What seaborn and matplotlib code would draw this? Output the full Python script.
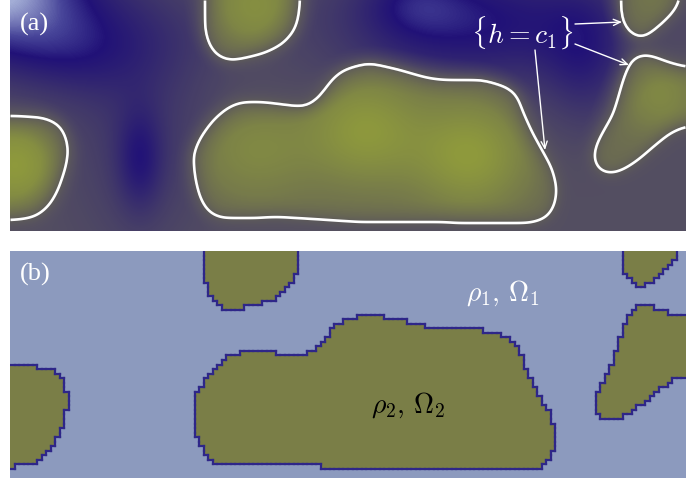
import numpy as np
import matplotlib
matplotlib.use("Agg")
import matplotlib.pyplot as plt
import seaborn as sns
from matplotlib.path import Path
from matplotlib.colors import LinearSegmentedColormap, ListedColormap
from matplotlib.collections import LineCollection

# ---------------------------------------------------------------
# Level-set outlines {h = c1} (x, y in panel pixels, y downward)
# ---------------------------------------------------------------
blob_left_x = [-20, 10, 40, 55, 63, 68, 68, 65, 58, 50, 37, 25, 10, -20]
blob_left_y = [116, 116, 117, 122, 130, 145, 155, 170, 190, 205, 216, 219, 220, 220]

blob_top_x = [205, 205, 205, 209, 217, 230, 245, 265, 283, 295, 299, 300, 300]
blob_top_y = [-20, 0, 30, 45, 56, 61, 58, 53, 44, 30, 15, 0, -20]

blob_main_x = [193, 200, 213, 227, 240, 263, 287, 303, 313, 323, 333, 343, 360, 370,
               400, 427, 443, 483, 507, 517, 523, 532, 543, 552, 557, 555, 547, 530,
               483, 417, 360, 313, 280, 247, 220, 208, 200, 195]
blob_main_y = [155, 138, 120, 108, 102, 102, 105, 107, 103, 92, 78, 70, 65, 63,
               70, 78, 80, 80, 87, 95, 112, 132, 152, 168, 188, 205, 218, 223,
               223, 222, 222, 219, 217, 218, 218, 212, 198, 178]

blob_corner_x = [621, 621, 623, 630, 640, 648, 660, 673, 679, 680, 680]
blob_corner_y = [-20, 10, 23, 33, 39, 35, 25, 13, 3, 0, -20]

blob_right_x = [633, 642, 653, 667, 686, 710, 710, 686, 670, 653, 638, 623, 610,
                598, 593, 597, 605, 613, 618, 623, 628]
blob_right_y = [58, 54, 56, 62, 67, 70, 124, 126, 133, 147, 160, 170, 174,
                170, 157, 143, 128, 115, 98, 80, 67]

# Interior maxima of h (x, y, sigma_x, sigma_y, amplitude)
peak_x = [15, 255, 255, 365, 470, 655, 660]
peak_y = [165, 5, 150, 130, 155, 5, 95]
peak_sx = [35, 35, 45, 40, 42, 25, 30]
peak_sy = [35, 35, 40, 40, 40, 25, 30]
peak_amp = [0.60, 0.45, 0.35, 0.55, 0.60, 0.15, 0.35]

# Exterior minima of h (x, y, sigma_x, sigma_y, amplitude)
well_x = [-10, 70, 140, 140, 160, 475, 415, 585]
well_y = [-15, 50, 160, 120, 35, 22, 0, 60]
well_sx = [70, 50, 16, 50, 55, 100, 35, 30]
well_sy = [50, 35, 35, 90, 35, 45, 25, 50]
well_amp = [-1.4, -0.4, -0.45, -0.3, -0.15, -0.75, -0.3, -0.4]

X0, X1, Y0, Y1 = 10, 686, 0, 231
xs = np.arange(X0, X1) + 0.5
ys = np.arange(Y0, Y1) + 0.5
XX, YY = np.meshgrid(xs, ys)
pts = np.column_stack([XX.ravel(), YY.ravel()])

mask = np.zeros(XX.shape)
for bx, by in [(blob_left_x, blob_left_y), (blob_top_x, blob_top_y),
               (blob_main_x, blob_main_y), (blob_corner_x, blob_corner_y),
               (blob_right_x, blob_right_y)]:
    inside = Path(np.column_stack([bx, by])).contains_points(pts)
    mask = np.maximum(mask, inside.reshape(XX.shape).astype(float))


def smooth(a, sigma):
    r = int(3 * sigma)
    k = np.exp(-0.5 * (np.arange(-r, r + 1) / sigma) ** 2)
    k /= k.sum()
    p = np.pad(a, r, mode="edge")
    p = np.apply_along_axis(lambda v: np.convolve(v, k, mode="valid"), 0, p)
    p = np.apply_along_axis(lambda v: np.convolve(v, k, mode="valid"), 1, p)
    return p


def bumps(cx, cy, sx, sy, amp):
    out = np.zeros(XX.shape)
    for a, b, c, d, e in zip(cx, cy, sx, sy, amp):
        out += e * np.exp(-0.5 * (((XX - a) / c) ** 2 + ((YY - b) / d) ** 2))
    return out


s_near = smooth(mask, 7.0) - 0.5
s_far = smooth(mask, 20.0) - 0.5
w_in = np.clip(4 * s_near, 0, 1) * np.clip(2.5 * s_far + 0.1, 0, 1)
w_out = np.clip(-4 * s_near, 0, 1) * np.clip(-2.5 * s_far + 0.1, 0, 1)
h = 0.5 * s_near + w_in * bumps(peak_x, peak_y, peak_sx, peak_sy, peak_amp) \
    + w_out * bumps(well_x, well_y, well_sx, well_sy, well_amp)

VMIN, VMAX = -1.6, 1.0
stops = [(-1.6, (0.64, 0.68, 0.84)),
         (-1.25, (0.28, 0.27, 0.60)),
         (-1.0, (0.13, 0.07, 0.47)),
         (-0.25, (0.33, 0.31, 0.38)),
         (0.0, (0.37, 0.36, 0.35)),
         (0.25, (0.42, 0.42, 0.32)),
         (0.6, (0.50, 0.53, 0.27)),
         (1.0, (0.59, 0.64, 0.22))]
field_cmap = LinearSegmentedColormap.from_list(
    "field", [((v - VMIN) / (VMAX - VMIN), c) for v, c in stops])

sns.set_style("white")
plt.rcParams["mathtext.fontset"] = "cm"
W, H = 686, 480
fig = plt.figure(figsize=(W / 100, H / 100), dpi=100)

# (a) smooth field with its level set
ax1 = fig.add_axes([X0 / W, 1 - Y1 / H, (X1 - X0) / W, (Y1 - Y0) / H])
ax1.imshow(h, extent=(X0, X1, Y1, Y0), cmap=field_cmap, vmin=VMIN, vmax=VMAX,
           interpolation="bilinear", aspect="auto")
ax1.contour(xs, ys, h, levels=[0.0], colors="white", linewidths=1.9)
ax1.set_xlim(X0, X1)
ax1.set_ylim(Y1, Y0)
ax1.axis("off")

arrow = dict(arrowstyle="->,head_length=0.5,head_width=0.22", color="white",
             lw=1.0, shrinkA=0, shrinkB=0)
ax1.annotate("", xy=(622, 22), xytext=(575, 24), arrowprops=arrow)
ax1.annotate("", xy=(629, 65), xytext=(575, 44), arrowprops=arrow)
ax1.annotate("", xy=(545, 150), xytext=(535, 50), arrowprops=arrow)
ax1.text(522, 33, r"$\{h = c_1\}$", color="white", fontsize=20,
         ha="center", va="center")

# (b) two-phase partition on the computational grid
NX, NY = 150, 50
B0, B1 = 251, 478
cx = X0 + (np.arange(NX) + 0.5) * (X1 - X0) / NX
cy = Y0 + (np.arange(NY) + 0.5) * (Y1 - Y0) / NY
ix = np.clip((cx - X0).astype(int), 0, h.shape[1] - 1)
iy = np.clip((cy - Y0).astype(int), 0, h.shape[0] - 1)
phase = (h[np.ix_(iy, ix)] > 0).astype(int)

ax2 = fig.add_axes([X0 / W, 1 - B1 / H, (X1 - X0) / W, (B1 - B0) / H])
sns.heatmap(phase, ax=ax2, cmap=ListedColormap(["#8c9abe", "#7a7e47"]),
            vmin=0, vmax=1, cbar=False, xticklabels=False, yticklabels=False)

segs = []
dv = np.argwhere(phase[:, 1:] != phase[:, :-1])
for j, i in dv:
    segs.append([(i + 1, j), (i + 1, j + 1)])
dh = np.argwhere(phase[1:, :] != phase[:-1, :])
for j, i in dh:
    segs.append([(i, j + 1), (i + 1, j + 1)])
ax2.add_collection(LineCollection(segs, colors="#2e2688", linewidths=1.6,
                                  capstyle="projecting"))
ax2.set_xlim(0, NX)
ax2.set_ylim(NY, 0)
ax2.axis("off")

serif = ["Liberation Serif", "DejaVu Serif"]
fig.text(20 / W, 1 - 24 / H, "(a)", color="white", fontsize=19,
         family=serif, ha="left", va="center")
fig.text(20 / W, 1 - 274 / H, "(b)", color="white", fontsize=19,
         family=serif, ha="left", va="center")
fig.text(503 / W, 1 - 293 / H, r"$\rho_1,\,\Omega_1$", color="white",
         fontsize=20, ha="center", va="center")
fig.text(408 / W, 1 - 405 / H, r"$\rho_2,\,\Omega_2$", color="black",
         fontsize=20, ha="center", va="center")

fig.savefig("out.png", dpi=100)
